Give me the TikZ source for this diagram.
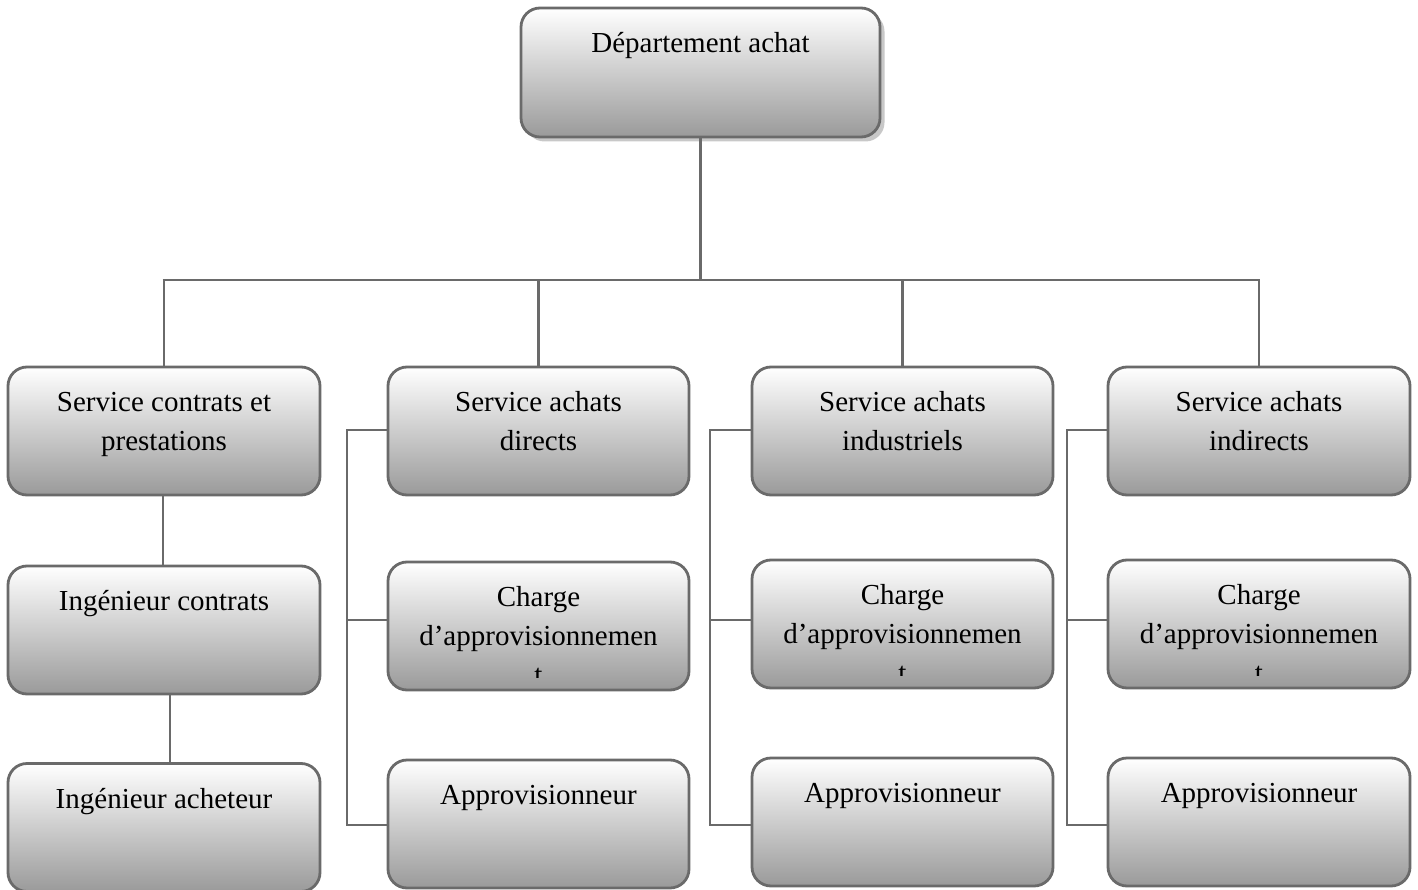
\documentclass[tikz,border=0pt]{standalone}
\usepackage{fontspec}
\setmainfont{Liberation Serif}
\usetikzlibrary{shadows}
\definecolor{edge}{HTML}{6A6A6A}
\definecolor{shadebot}{HTML}{9A9A9A}
\definecolor{shademid}{HTML}{D4D4D4}
\definecolor{shadowgray}{HTML}{C8C8C8}
\tikzset{
  unitbox/.style={draw=edge, line width=2.8pt, rounded corners=19pt,
    top color=white, middle color=shademid, bottom color=shadebot,
    minimum height=128pt, inner sep=0pt},
  boxtext/.style={anchor=north, align=center, inner sep=0pt,
    font=\fontsize{29}{39}\selectfont},
  wire/.style={draw=edge, line width=2.8pt},
}
\newcommand{\boxlabel}[3]{%
  \node[boxtext] (#1) at ([yshift=-18.5pt]#2.north) {\strut #3};}
\begin{document}
\begin{tikzpicture}[x=1pt, y=-1pt]
\useasboundingbox (0,0) rectangle (1418,890);

% head of the department, with its drop shadow
\node[unitbox, minimum width=359pt, minimum height=129pt,
  drop shadow={shadow xshift=4.5pt, shadow yshift=-4.5pt, fill=shadowgray, opacity=1}]
  (dep) at (700.5,72.5) {};
\boxlabel{tdep}{dep}{Département achat}

% the four services
\node[unitbox, minimum width=312pt] (sA) at (164,431) {};
\node[unitbox, minimum width=301pt] (sB) at (538.5,431) {};
\node[unitbox, minimum width=301pt] (sC) at (902.5,431) {};
\node[unitbox, minimum width=302pt] (sD) at (1259,431) {};
\boxlabel{tA}{sA}{Service contrats et\\prestations}
\boxlabel{tB}{sB}{Service achats\\directs}
\boxlabel{tC}{sC}{Service achats\\industriels}
\boxlabel{tD}{sD}{Service achats\\indirects}

% contracts column
\node[unitbox, minimum width=312pt] (ic) at (164,630) {};
\node[unitbox, minimum width=312pt] (ia) at (164,827.5) {};
\boxlabel{tic}{ic}{Ingénieur contrats}
\boxlabel{tia}{ia}{Ingénieur acheteur}

% supply officers (text clipped by the box margin)
\node[unitbox, minimum width=301pt] (cB) at (538.5,626) {};
\node[unitbox, minimum width=301pt] (cC) at (902.5,624) {};
\node[unitbox, minimum width=302pt] (cD) at (1259,624) {};
\foreach \c in {cB,cC,cD}{
  \begin{scope}
    \clip ([yshift=10pt]\c.north west) rectangle ([yshift=13.5pt]\c.south east);
    \boxlabel{t\c}{\c}{Charge\\d’approvisionnemen\\t}
  \end{scope}
}

% suppliers
\node[unitbox, minimum width=301pt] (aB) at (538.5,824) {};
\node[unitbox, minimum width=301pt] (aC) at (902.5,822) {};
\node[unitbox, minimum width=302pt] (aD) at (1259,822) {};
\boxlabel{taB}{aB}{Approvisionneur}
\boxlabel{taC}{aC}{Approvisionneur}
\boxlabel{taD}{aD}{Approvisionneur}

% tree from the department to the services
\coordinate (bus) at (700.5,280);
\draw[wire] (dep.south) -- (bus);
\draw[wire] ([xshift=-1.4pt]sA.north |- bus) -- ([xshift=1.4pt]sD.north |- bus);
\draw[wire] (sA.north |- bus) -- (sA.north);
\draw[wire] (sB.north |- bus) -- (sB.north);
\draw[wire] (sC.north |- bus) -- (sC.north);
\draw[wire] (sD.north |- bus) -- (sD.north);

% contracts chain
\draw[wire] ([xshift=-1pt]sA.south) -- ([xshift=-1pt]ic.north);
\draw[wire] ([xshift=6pt]ic.south) -- ([xshift=6pt]ia.north);

% brackets from each service to its staff
\foreach \s/\c/\a/\x in {sB/cB/aB/347, sC/cC/aC/710, sD/cD/aD/1067}{
  \coordinate (top\s) at (\x,430);
  \coordinate (mid\s) at (\x,620);
  \coordinate (bot\s) at (\x,825);
  \draw[wire] (top\s -| \s.west) -- (top\s) -- (bot\s) -- (bot\s -| \a.west);
  \draw[wire] (mid\s) -- (mid\s -| \c.west);
}
\end{tikzpicture}
\end{document}
